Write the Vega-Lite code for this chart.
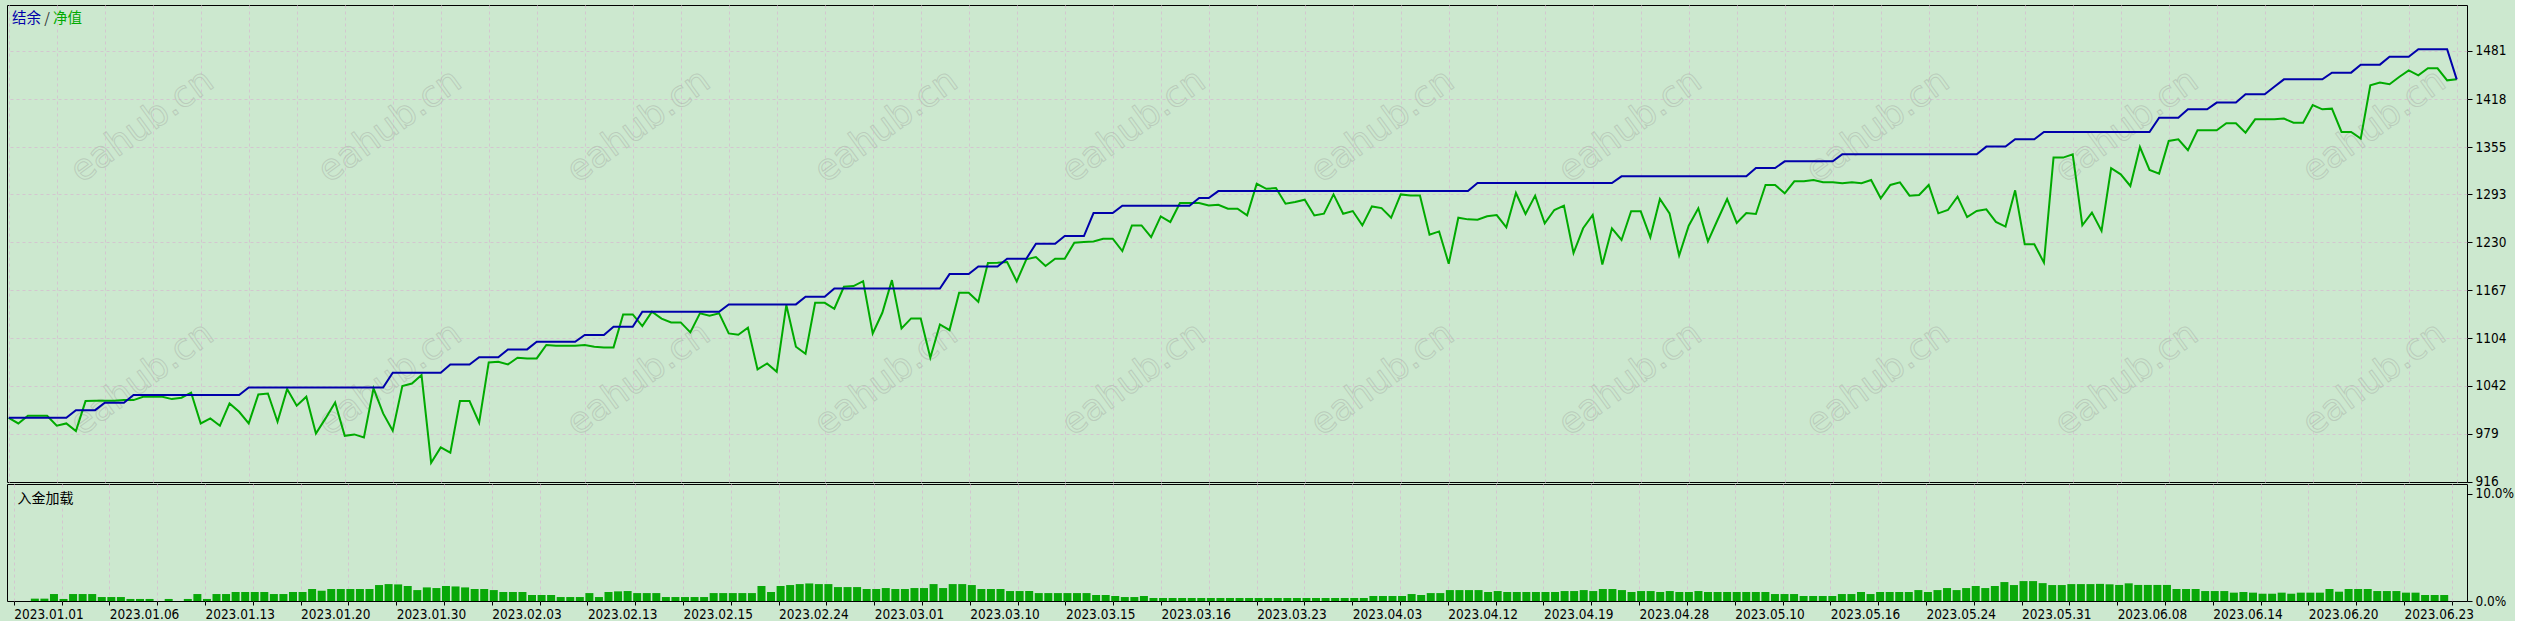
{
  "$schema": "https://vega.github.io/schema/vega-lite/v6.json",
  "background": "#CCE8CF",
  "padding": {"left": 4, "top": 4, "right": 0, "bottom": 0},
  "autosize": {"type": "pad"},
  "bounds": "flush",
  "spacing": 2,
  "config": {
    "view": {"stroke": "#000000", "strokeWidth": 1, "fill": "#CCE8CF"},
    "axis": {
      "labelFont": "'DejaVu Sans Condensed', 'DejaVu Sans', sans-serif",
      "labelFontSize": 13.5,
      "labelColor": "#000000",
      "tickColor": "#000000",
      "gridColor": "#D3C6CF",
      "gridDash": [3, 3],
      "gridWidth": 1,
      "domain": false,
      "title": null,
      "labelOverlap": false,
      "labelBound": false,
      "labelFlush": false
    }
  },
  "datasets": {
    "watermark": [
      {"n": 13.9, "top": 1382.7, "mid": 1051.1},
      {"n": 39.7, "top": 1382.7, "mid": 1051.1},
      {"n": 65.6, "top": 1382.7, "mid": 1051.1},
      {"n": 91.4, "top": 1382.7, "mid": 1051.1},
      {"n": 117.2, "top": 1382.7, "mid": 1051.1},
      {"n": 143.1, "top": 1382.7, "mid": 1051.1},
      {"n": 168.9, "top": 1382.7, "mid": 1051.1},
      {"n": 194.7, "top": 1382.7, "mid": 1051.1},
      {"n": 220.6, "top": 1382.7, "mid": 1051.1},
      {"n": 246.4, "top": 1382.7, "mid": 1051.1}
    ],
    "trades": [
      {"n":0,"balance":1000,"equity":1000,"load":0},
      {"n":1,"balance":1000,"equity":992.6,"load":0},
      {"n":2,"balance":1000,"equity":1002.7,"load":0.22},
      {"n":3,"balance":1000,"equity":1002.7,"load":0.22},
      {"n":4,"balance":1000,"equity":1002.7,"load":0.65},
      {"n":5,"balance":1000,"equity":989.6,"load":0.19},
      {"n":6,"balance":1000,"equity":992.6,"load":0.65},
      {"n":7,"balance":1010,"equity":982.6,"load":0.65},
      {"n":8,"balance":1010,"equity":1021.9,"load":0.65},
      {"n":9,"balance":1010,"equity":1022.3,"load":0.37},
      {"n":10,"balance":1019.7,"equity":1022.3,"load":0.37},
      {"n":11,"balance":1019.7,"equity":1022.3,"load":0.37},
      {"n":12,"balance":1019.7,"equity":1023.2,"load":0.19},
      {"n":13,"balance":1029.8,"equity":1023.2,"load":0.19},
      {"n":14,"balance":1029.8,"equity":1027.6,"load":0.19},
      {"n":15,"balance":1029.8,"equity":1027.6,"load":0},
      {"n":16,"balance":1029.8,"equity":1027.6,"load":0.19},
      {"n":17,"balance":1029.8,"equity":1024.5,"load":0},
      {"n":18,"balance":1029.8,"equity":1026.3,"load":0.19},
      {"n":19,"balance":1029.8,"equity":1033,"load":0.65},
      {"n":20,"balance":1029.8,"equity":992.6,"load":0.19},
      {"n":21,"balance":1029.8,"equity":999.2,"load":0.65},
      {"n":22,"balance":1029.8,"equity":989.6,"load":0.65},
      {"n":23,"balance":1029.8,"equity":1018.8,"load":0.84},
      {"n":24,"balance":1029.8,"equity":1007.9,"load":0.84},
      {"n":25,"balance":1039.8,"equity":992.6,"load":0.84},
      {"n":26,"balance":1039.8,"equity":1030.6,"load":0.84},
      {"n":27,"balance":1039.8,"equity":1031.9,"load":0.65},
      {"n":28,"balance":1039.8,"equity":994.8,"load":0.65},
      {"n":29,"balance":1039.8,"equity":1037.6,"load":0.84},
      {"n":30,"balance":1039.8,"equity":1015.8,"load":0.84},
      {"n":31,"balance":1039.8,"equity":1027.6,"load":1.12},
      {"n":32,"balance":1039.8,"equity":979.5,"load":0.96},
      {"n":33,"balance":1039.8,"equity":999.2,"load":1.12},
      {"n":34,"balance":1039.8,"equity":1020.1,"load":1.12},
      {"n":35,"balance":1039.8,"equity":976.4,"load":1.12},
      {"n":36,"balance":1039.8,"equity":978.2,"load":1.12},
      {"n":37,"balance":1039.8,"equity":974.3,"load":1.12},
      {"n":38,"balance":1039.8,"equity":1038.5,"load":1.49},
      {"n":39,"balance":1039.8,"equity":1005.7,"load":1.58},
      {"n":40,"balance":1059,"equity":983,"load":1.55},
      {"n":41,"balance":1059,"equity":1041.5,"load":1.4},
      {"n":42,"balance":1059,"equity":1045,"load":1.02},
      {"n":43,"balance":1059,"equity":1056,"load":1.27},
      {"n":44,"balance":1059,"equity":941.1,"load":1.21},
      {"n":45,"balance":1059,"equity":961.2,"load":1.4},
      {"n":46,"balance":1069.9,"equity":954.2,"load":1.36},
      {"n":47,"balance":1069.9,"equity":1021.9,"load":1.27},
      {"n":48,"balance":1069.9,"equity":1021.9,"load":1.12},
      {"n":49,"balance":1079.3,"equity":993.5,"load":1.12},
      {"n":50,"balance":1079.3,"equity":1072.6,"load":1.02},
      {"n":51,"balance":1079.3,"equity":1073.4,"load":0.84},
      {"n":52,"balance":1089.7,"equity":1070,"load":0.84},
      {"n":53,"balance":1089.7,"equity":1078.8,"load":0.84},
      {"n":54,"balance":1089.7,"equity":1077.9,"load":0.56},
      {"n":55,"balance":1099.7,"equity":1077.9,"load":0.56},
      {"n":56,"balance":1099.7,"equity":1095.4,"load":0.56},
      {"n":57,"balance":1099.7,"equity":1094.5,"load":0.37},
      {"n":58,"balance":1099.7,"equity":1094.5,"load":0.37},
      {"n":59,"balance":1099.7,"equity":1094.5,"load":0.37},
      {"n":60,"balance":1108.5,"equity":1095.4,"load":0.74},
      {"n":61,"balance":1108.5,"equity":1093.2,"load":0.37},
      {"n":62,"balance":1108.5,"equity":1092.3,"load":0.84},
      {"n":63,"balance":1119.4,"equity":1092.3,"load":0.9},
      {"n":64,"balance":1119.4,"equity":1135.6,"load":0.93},
      {"n":65,"balance":1119.4,"equity":1135.6,"load":0.74},
      {"n":66,"balance":1139,"equity":1120.3,"load":0.74},
      {"n":67,"balance":1139,"equity":1139.1,"load":0.74},
      {"n":68,"balance":1139,"equity":1130,"load":0.37},
      {"n":69,"balance":1139,"equity":1125.1,"load":0.37},
      {"n":70,"balance":1139,"equity":1125.1,"load":0.37},
      {"n":71,"balance":1139,"equity":1112,"load":0.37},
      {"n":72,"balance":1139,"equity":1136.9,"load":0.37},
      {"n":73,"balance":1139,"equity":1133.8,"load":0.74},
      {"n":74,"balance":1139,"equity":1136.9,"load":0.74},
      {"n":75,"balance":1148.7,"equity":1110.6,"load":0.74},
      {"n":76,"balance":1148.7,"equity":1108.9,"load":0.74},
      {"n":77,"balance":1148.7,"equity":1118.1,"load":0.74},
      {"n":78,"balance":1148.7,"equity":1063.5,"load":1.4},
      {"n":79,"balance":1148.7,"equity":1071.3,"load":0.84},
      {"n":80,"balance":1148.7,"equity":1060.4,"load":1.4},
      {"n":81,"balance":1148.7,"equity":1147.8,"load":1.49},
      {"n":82,"balance":1148.7,"equity":1093.2,"load":1.58},
      {"n":83,"balance":1158.7,"equity":1084,"load":1.64},
      {"n":84,"balance":1158.7,"equity":1150.8,"load":1.58},
      {"n":85,"balance":1158.7,"equity":1150.8,"load":1.58},
      {"n":86,"balance":1169.6,"equity":1143,"load":1.3},
      {"n":87,"balance":1169.6,"equity":1171.8,"load":1.3},
      {"n":88,"balance":1169.6,"equity":1172.7,"load":1.3},
      {"n":89,"balance":1169.6,"equity":1179.2,"load":1.12},
      {"n":90,"balance":1169.6,"equity":1110.6,"load":1.12},
      {"n":91,"balance":1169.6,"equity":1137.7,"load":1.21},
      {"n":92,"balance":1169.6,"equity":1180.5,"load":1.12},
      {"n":93,"balance":1169.6,"equity":1117.2,"load":1.12},
      {"n":94,"balance":1169.6,"equity":1130.3,"load":1.21},
      {"n":95,"balance":1169.6,"equity":1130.3,"load":1.21},
      {"n":96,"balance":1169.6,"equity":1078.8,"load":1.58},
      {"n":97,"balance":1169.6,"equity":1122.4,"load":1.21},
      {"n":98,"balance":1188.4,"equity":1115,"load":1.58},
      {"n":99,"balance":1188.4,"equity":1163.9,"load":1.58},
      {"n":100,"balance":1188.4,"equity":1163.9,"load":1.49},
      {"n":101,"balance":1198.5,"equity":1152.1,"load":1.12},
      {"n":102,"balance":1198.5,"equity":1203,"load":1.12},
      {"n":103,"balance":1198.5,"equity":1203.4,"load":1.12},
      {"n":104,"balance":1208.6,"equity":1204.2,"load":0.93},
      {"n":105,"balance":1208.6,"equity":1178.9,"load":0.93},
      {"n":106,"balance":1208.6,"equity":1207.7,"load":0.93},
      {"n":107,"balance":1228.3,"equity":1210.8,"load":0.74},
      {"n":108,"balance":1228.3,"equity":1199,"load":0.74},
      {"n":109,"balance":1228.3,"equity":1208.6,"load":0.74},
      {"n":110,"balance":1238.3,"equity":1208.6,"load":0.74},
      {"n":111,"balance":1238.3,"equity":1229.6,"load":0.74},
      {"n":112,"balance":1238.3,"equity":1230.4,"load":0.74},
      {"n":113,"balance":1268.5,"equity":1231.3,"load":0.56},
      {"n":114,"balance":1268.5,"equity":1234.8,"load":0.56},
      {"n":115,"balance":1268.5,"equity":1234.8,"load":0.47},
      {"n":116,"balance":1278.1,"equity":1218.6,"load":0.37},
      {"n":117,"balance":1278.1,"equity":1252.3,"load":0.37},
      {"n":118,"balance":1278.1,"equity":1252.3,"load":0.47},
      {"n":119,"balance":1278.1,"equity":1237,"load":0.28},
      {"n":120,"balance":1278.1,"equity":1264.1,"load":0.28},
      {"n":121,"balance":1278.1,"equity":1256.7,"load":0.28},
      {"n":122,"balance":1278.1,"equity":1281.6,"load":0.28},
      {"n":123,"balance":1278.1,"equity":1281.6,"load":0.28},
      {"n":124,"balance":1288.1,"equity":1281.6,"load":0.28},
      {"n":125,"balance":1288.1,"equity":1278.5,"load":0.28},
      {"n":126,"balance":1297.3,"equity":1279.4,"load":0.28},
      {"n":127,"balance":1297.3,"equity":1274.1,"load":0.28},
      {"n":128,"balance":1297.3,"equity":1274.1,"load":0.28},
      {"n":129,"balance":1297.3,"equity":1265.4,"load":0.28},
      {"n":130,"balance":1297.3,"equity":1306.9,"load":0.28},
      {"n":131,"balance":1297.3,"equity":1300.3,"load":0.28},
      {"n":132,"balance":1297.3,"equity":1301.2,"load":0.28},
      {"n":133,"balance":1297.3,"equity":1280.7,"load":0.28},
      {"n":134,"balance":1297.3,"equity":1282.9,"load":0.28},
      {"n":135,"balance":1297.3,"equity":1285.9,"load":0.28},
      {"n":136,"balance":1297.3,"equity":1265.4,"load":0.28},
      {"n":137,"balance":1297.3,"equity":1267.6,"load":0.28},
      {"n":138,"balance":1297.3,"equity":1292.9,"load":0.28},
      {"n":139,"balance":1297.3,"equity":1267.6,"load":0.28},
      {"n":140,"balance":1297.3,"equity":1271.1,"load":0.28},
      {"n":141,"balance":1297.3,"equity":1252.3,"load":0.28},
      {"n":142,"balance":1297.3,"equity":1277.2,"load":0.47},
      {"n":143,"balance":1297.3,"equity":1275,"load":0.47},
      {"n":144,"balance":1297.3,"equity":1262.3,"load":0.47},
      {"n":145,"balance":1297.3,"equity":1292.9,"load":0.47},
      {"n":146,"balance":1297.3,"equity":1291.6,"load":0.65},
      {"n":147,"balance":1297.3,"equity":1291.6,"load":0.56},
      {"n":148,"balance":1297.3,"equity":1240.1,"load":0.74},
      {"n":149,"balance":1297.3,"equity":1244.4,"load":0.74},
      {"n":150,"balance":1297.3,"equity":1202.1,"load":1.02},
      {"n":151,"balance":1297.3,"equity":1262.3,"load":1.02},
      {"n":152,"balance":1297.3,"equity":1260.2,"load":1.02},
      {"n":153,"balance":1307.9,"equity":1259.8,"load":1.02},
      {"n":154,"balance":1307.9,"equity":1264.2,"load":0.84},
      {"n":155,"balance":1307.9,"equity":1265.9,"load":0.93},
      {"n":156,"balance":1307.9,"equity":1249.8,"load":0.84},
      {"n":157,"balance":1307.9,"equity":1294.8,"load":0.84},
      {"n":158,"balance":1307.9,"equity":1267.3,"load":0.84},
      {"n":159,"balance":1307.9,"equity":1291.3,"load":0.84},
      {"n":160,"balance":1307.9,"equity":1255,"load":0.84},
      {"n":161,"balance":1307.9,"equity":1272.5,"load":0.84},
      {"n":162,"balance":1307.9,"equity":1278.2,"load":0.93},
      {"n":163,"balance":1307.9,"equity":1216.1,"load":0.93},
      {"n":164,"balance":1307.9,"equity":1248.5,"load":1.02},
      {"n":165,"balance":1307.9,"equity":1265.9,"load":0.93},
      {"n":166,"balance":1307.9,"equity":1200.9,"load":1.12},
      {"n":167,"balance":1307.9,"equity":1248.5,"load":1.12},
      {"n":168,"balance":1316.6,"equity":1233.2,"load":1.02},
      {"n":169,"balance":1316.6,"equity":1270.8,"load":0.84},
      {"n":170,"balance":1316.6,"equity":1270.8,"load":0.93},
      {"n":171,"balance":1316.6,"equity":1236.7,"load":0.93},
      {"n":172,"balance":1316.6,"equity":1286.9,"load":0.84},
      {"n":173,"balance":1316.6,"equity":1268.1,"load":0.93},
      {"n":174,"balance":1316.6,"equity":1212.7,"load":0.84},
      {"n":175,"balance":1316.6,"equity":1251.9,"load":0.84},
      {"n":176,"balance":1316.6,"equity":1274.7,"load":0.93},
      {"n":177,"balance":1316.6,"equity":1231.4,"load":0.84},
      {"n":178,"balance":1316.6,"equity":1259.4,"load":0.84},
      {"n":179,"balance":1316.6,"equity":1286.9,"load":0.84},
      {"n":180,"balance":1316.6,"equity":1255.5,"load":0.84},
      {"n":181,"balance":1316.6,"equity":1268.6,"load":0.84},
      {"n":182,"balance":1327.6,"equity":1267.3,"load":0.84},
      {"n":183,"balance":1327.6,"equity":1305.3,"load":0.84},
      {"n":184,"balance":1327.6,"equity":1305.3,"load":0.65},
      {"n":185,"balance":1336.3,"equity":1294.4,"load":0.65},
      {"n":186,"balance":1336.3,"equity":1310.1,"load":0.65},
      {"n":187,"balance":1336.3,"equity":1310.1,"load":0.47},
      {"n":188,"balance":1336.3,"equity":1311.8,"load":0.47},
      {"n":189,"balance":1336.3,"equity":1308.8,"load":0.47},
      {"n":190,"balance":1336.3,"equity":1308.8,"load":0.47},
      {"n":191,"balance":1345.6,"equity":1307.5,"load":0.65},
      {"n":192,"balance":1345.6,"equity":1308.8,"load":0.65},
      {"n":193,"balance":1345.6,"equity":1307.5,"load":0.84},
      {"n":194,"balance":1345.6,"equity":1311.8,"load":0.65},
      {"n":195,"balance":1345.6,"equity":1287.8,"load":0.84},
      {"n":196,"balance":1345.6,"equity":1305.3,"load":0.84},
      {"n":197,"balance":1345.6,"equity":1308.8,"load":0.84},
      {"n":198,"balance":1345.6,"equity":1291.3,"load":0.84},
      {"n":199,"balance":1345.6,"equity":1292.2,"load":1.02},
      {"n":200,"balance":1345.6,"equity":1305.3,"load":0.84},
      {"n":201,"balance":1345.6,"equity":1268.1,"load":1.02},
      {"n":202,"balance":1345.6,"equity":1272.5,"load":1.21},
      {"n":203,"balance":1345.6,"equity":1290,"load":1.02},
      {"n":204,"balance":1345.6,"equity":1263.2,"load":1.21},
      {"n":205,"balance":1345.6,"equity":1271.3,"load":1.4},
      {"n":206,"balance":1355.6,"equity":1273.4,"load":1.21},
      {"n":207,"balance":1355.6,"equity":1256.8,"load":1.4},
      {"n":208,"balance":1355.6,"equity":1250.7,"load":1.77},
      {"n":209,"balance":1365.2,"equity":1298.3,"load":1.49},
      {"n":210,"balance":1365.2,"equity":1227.6,"load":1.86},
      {"n":211,"balance":1365.2,"equity":1227.6,"load":1.86},
      {"n":212,"balance":1374.8,"equity":1203.5,"load":1.67},
      {"n":213,"balance":1374.8,"equity":1341.2,"load":1.49},
      {"n":214,"balance":1374.8,"equity":1341.2,"load":1.49},
      {"n":215,"balance":1374.8,"equity":1345.5,"load":1.58},
      {"n":216,"balance":1374.8,"equity":1252.5,"load":1.58},
      {"n":217,"balance":1374.8,"equity":1269.1,"load":1.58},
      {"n":218,"balance":1374.8,"equity":1245,"load":1.6},
      {"n":219,"balance":1374.8,"equity":1327.2,"load":1.56},
      {"n":220,"balance":1374.8,"equity":1319.3,"load":1.5},
      {"n":221,"balance":1374.8,"equity":1304,"load":1.65},
      {"n":222,"balance":1374.8,"equity":1355.1,"load":1.5},
      {"n":223,"balance":1374.8,"equity":1325,"load":1.5},
      {"n":224,"balance":1393.6,"equity":1320.2,"load":1.5},
      {"n":225,"balance":1393.6,"equity":1363,"load":1.5},
      {"n":226,"balance":1393.6,"equity":1365.2,"load":1.12},
      {"n":227,"balance":1404.5,"equity":1350.8,"load":1.12},
      {"n":228,"balance":1404.5,"equity":1377,"load":1.12},
      {"n":229,"balance":1404.5,"equity":1377,"load":0.93},
      {"n":230,"balance":1413.3,"equity":1377,"load":0.93},
      {"n":231,"balance":1413.3,"equity":1386.2,"load":0.93},
      {"n":232,"balance":1413.3,"equity":1386.2,"load":0.78},
      {"n":233,"balance":1424.2,"equity":1373.9,"load":0.84},
      {"n":234,"balance":1424.2,"equity":1391.4,"load":0.78},
      {"n":235,"balance":1424.2,"equity":1391.4,"load":0.68},
      {"n":236,"balance":1434,"equity":1391.4,"load":0.68},
      {"n":237,"balance":1443.8,"equity":1392.3,"load":0.78},
      {"n":238,"balance":1443.8,"equity":1387,"load":0.68},
      {"n":239,"balance":1443.8,"equity":1387,"load":0.78},
      {"n":240,"balance":1443.8,"equity":1410.2,"load":0.78},
      {"n":241,"balance":1443.8,"equity":1404.5,"load":0.78},
      {"n":242,"balance":1452.6,"equity":1405.4,"load":1.12},
      {"n":243,"balance":1452.6,"equity":1374.8,"load":0.87},
      {"n":244,"balance":1452.6,"equity":1374.8,"load":1.12},
      {"n":245,"balance":1463.1,"equity":1366.1,"load":1.12},
      {"n":246,"balance":1463.1,"equity":1436,"load":1.12},
      {"n":247,"balance":1463.1,"equity":1439.5,"load":0.93},
      {"n":248,"balance":1473.5,"equity":1437.3,"load":0.93},
      {"n":249,"balance":1473.5,"equity":1446.9,"load":0.93},
      {"n":250,"balance":1473.5,"equity":1455.6,"load":0.78},
      {"n":251,"balance":1483.2,"equity":1449.1,"load":0.78},
      {"n":252,"balance":1483.2,"equity":1458.3,"load":0.56},
      {"n":253,"balance":1483.2,"equity":1458.3,"load":0.56},
      {"n":254,"balance":1483.2,"equity":1442.5,"load":0.56},
      {"n":255,"balance":1443.8,"equity":1443.8,"load":0}
    ]
  },
  "vconcat": [
    {
      "width": 2460,
      "height": 477,
      "layer": [
        {
          "data": {"name": "trades"},
          "mark": {"type": "line", "color": "#00AA00", "strokeWidth": 2, "opacity": 0},
          "encoding": {
            "x": {
              "field": "n",
              "type": "quantitative",
              "scale": {"domain": [-0.18, 256.07], "nice": false, "zero": false},
              "axis": {
                "orient": "bottom",
                "values": [0,5,10,15,20,25,30,35,40,45,50,55,60,65,70,75,80,85,90,95,100,105,110,115,120,125,130,135,140,145,150,155,160,165,170,175,180,185,190,195,200,205,210,215,220,225,230,235,240,245,250,255],
                "labels": false,
                "ticks": false,
                "grid": true
              }
            },
            "y": {
              "field": "equity",
              "type": "quantitative",
              "scale": {"domain": [915.8, 1541.3], "nice": false, "zero": false},
              "axis": {
                "orient": "right",
                "values": [916, 979, 1042, 1104, 1167, 1230, 1293, 1355, 1418, 1481],
                "format": "d",
                "grid": true,
                "gridOpacity": {"condition": {"test": "datum.value == 916", "value": 0}, "value": 1},
                "tickSize": 5,
                "labelPadding": 3
              }
            }
          }
        },
        {
          "data": {"name": "watermark"},
          "mark": {"type": "text", "text": "eahub.cn", "align": "center", "baseline": "middle", "angle": -36, "font": "DejaVu Sans", "fontSize": 36, "fillOpacity": 0, "stroke": "#AEB8AE", "strokeWidth": 1, "strokeOpacity": 0.6},
          "encoding": {
            "x": {"field": "n", "type": "quantitative"},
            "y": {"field": "top", "type": "quantitative"}
          }
        },
        {
          "data": {"name": "watermark"},
          "mark": {"type": "text", "text": "eahub.cn", "align": "center", "baseline": "middle", "angle": -36, "font": "DejaVu Sans", "fontSize": 36, "fillOpacity": 0, "stroke": "#AEB8AE", "strokeWidth": 1, "strokeOpacity": 0.6},
          "encoding": {
            "x": {"field": "n", "type": "quantitative"},
            "y": {"field": "mid", "type": "quantitative"}
          }
        },
        {
          "data": {"name": "trades"},
          "mark": {"type": "line", "color": "#00AA00", "strokeWidth": 2},
          "encoding": {
            "x": {"field": "n", "type": "quantitative"},
            "y": {"field": "equity", "type": "quantitative"}
          }
        },
        {
          "data": {"name": "trades"},
          "mark": {"type": "line", "color": "#0000AA", "strokeWidth": 2},
          "encoding": {
            "x": {"field": "n", "type": "quantitative"},
            "y": {"field": "balance", "type": "quantitative"}
          }
        },
        {
          "data": {"values": [{}]},
          "mark": {"type": "text", "text": "结余", "align": "left", "baseline": "middle", "font": "Noto Sans CJK SC", "fontSize": 14.5, "color": "#0000AA"},
          "encoding": {
            "x": {"datum": 0.34, "type": "quantitative"},
            "y": {"datum": 1523, "type": "quantitative"}
          }
        },
        {
          "data": {"values": [{}]},
          "mark": {"type": "text", "text": "/", "align": "left", "baseline": "middle", "font": "Noto Sans CJK SC", "fontSize": 14.5, "color": "#333333"},
          "encoding": {
            "x": {"datum": 3.7, "type": "quantitative"},
            "y": {"datum": 1523, "type": "quantitative"}
          }
        },
        {
          "data": {"values": [{}]},
          "mark": {"type": "text", "text": "净值", "align": "left", "baseline": "middle", "font": "Noto Sans CJK SC", "fontSize": 14.5, "color": "#00AA00"},
          "encoding": {
            "x": {"datum": 4.6, "type": "quantitative"},
            "y": {"datum": 1523, "type": "quantitative"}
          }
        }
      ]
    },
    {
      "width": 2460,
      "height": 117,
      "layer": [
        {
          "data": {"name": "trades"},
          "mark": {"type": "bar", "color": "#08A808", "width": 8, "xOffset": 2},
          "encoding": {
            "x": {
              "field": "n",
              "type": "quantitative",
              "scale": {"domain": [-0.18, 256.07], "nice": false, "zero": false},
              "axis": {
                "orient": "bottom",
                "values": [0,5,10,15,20,25,30,35,40,45,50,55,60,65,70,75,80,85,90,95,100,105,110,115,120,125,130,135,140,145,150,155,160,165,170,175,180,185,190,195,200,205,210,215,220,225,230,235,240,245,250,255],
                "labelExpr": "datum.value % 10 == 0 ? ['2023.01.01','2023.01.06','2023.01.13','2023.01.20','2023.01.30','2023.02.03','2023.02.13','2023.02.15','2023.02.24','2023.03.01','2023.03.10','2023.03.15','2023.03.16','2023.03.23','2023.04.03','2023.04.12','2023.04.19','2023.04.28','2023.05.10','2023.05.16','2023.05.24','2023.05.31','2023.06.08','2023.06.14','2023.06.20','2023.06.23'][datum.value / 10] : ''",
                "labelAlign": "left",
                "labelBaseline": "top",
                "labelPadding": 2,
                "tickSize": 4,
                "grid": true
              }
            },
            "y": {
              "field": "load",
              "type": "quantitative",
              "scale": {"domain": [0, 10.93], "nice": false},
              "axis": {
                "orient": "right",
                "values": [0, 10],
                "labelExpr": "format(datum.value, '.1f') + '%'",
                "grid": false,
                "tickSize": 5,
                "labelPadding": 3
              }
            }
          }
        },
        {
          "data": {"values": [{}]},
          "mark": {"type": "text", "text": "入金加载", "align": "left", "baseline": "middle", "font": "Noto Sans CJK SC", "fontSize": 14, "color": "#000000"},
          "encoding": {
            "x": {"datum": 0.4, "type": "quantitative"},
            "y": {"datum": 9.55, "type": "quantitative"}
          }
        }
      ]
    }
  ]
}
